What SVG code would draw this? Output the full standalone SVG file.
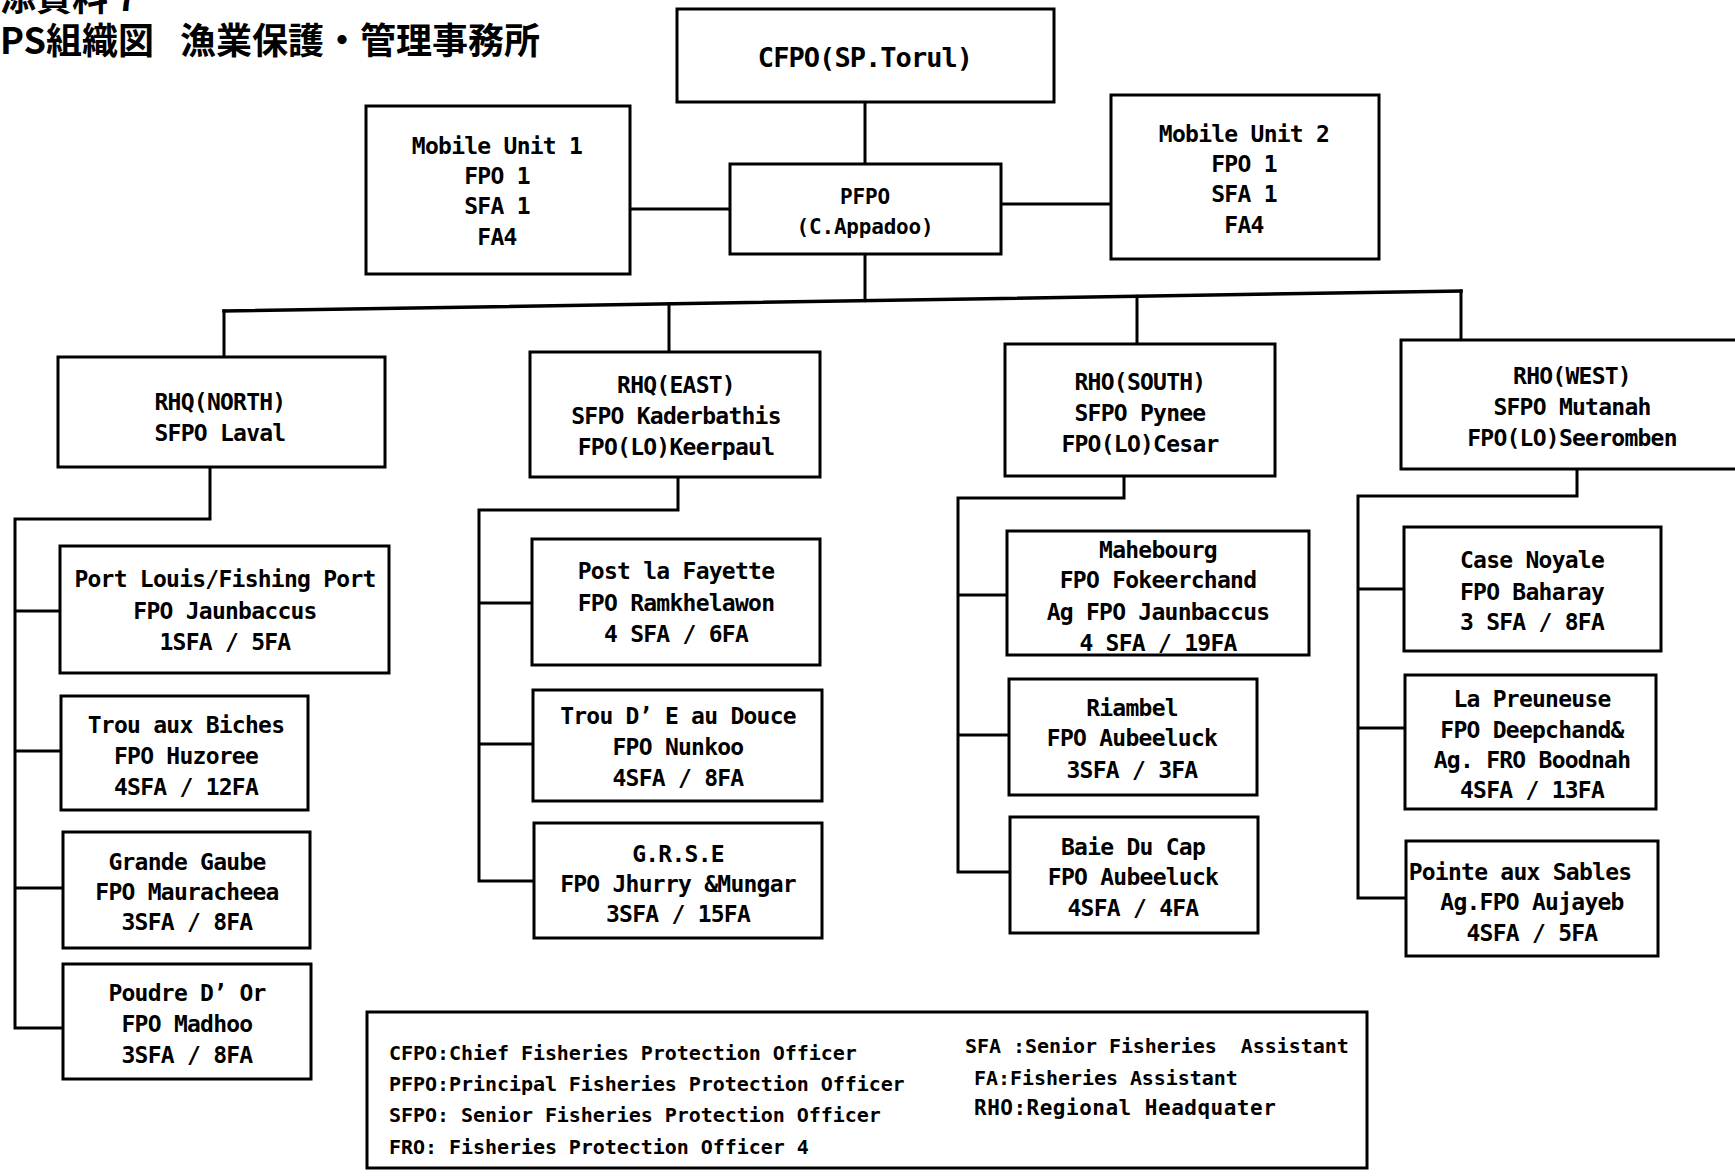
<svg xmlns="http://www.w3.org/2000/svg" width="1735" height="1176" viewBox="0 0 1735 1176">
<style>
.b{fill:#fff;stroke:#000;stroke-width:3}
.c{fill:none;stroke:#000;stroke-width:3;stroke-linecap:square}
.t{font-family:"DejaVu Sans Mono","Liberation Mono",monospace;font-weight:bold;font-size:23px;letter-spacing:-0.75px;text-anchor:middle;white-space:pre;fill:#000}
.big{font-size:27px;letter-spacing:-0.95px}
.pf{font-size:21px;letter-spacing:-0.2px}
.lg{font-family:"DejaVu Sans Mono","Liberation Mono",monospace;font-weight:bold;font-size:20px;letter-spacing:-0.05px;white-space:pre;fill:#000}
.ti{font-family:"Noto Sans CJK JP","Noto Sans CJK SC",sans-serif;font-weight:bold;font-size:36px;fill:#000}
</style>
<rect width="1735" height="1176" fill="#fff"/>
<g id="title">
<text class="ti" x="0" y="11">添資料 7</text>
<text class="ti" x="0" y="54">PS組織図</text>
<text class="ti" x="180" y="54">漁業保護・管理事務所</text>
</g>
<g id="connectors">
<path class="c" d="M865,102V164"/>
<path class="c" d="M630,209H730"/>
<path class="c" d="M1001,204H1111"/>
<path class="c" d="M865,254V300.6"/>
<path class="c" style="stroke-width:3.5" d="M224,311L1461,291"/>
<path class="c" d="M224,311V357M669,303.8V352M1137,296.2V344M1461,291V340"/>
<path class="c" d="M210,467V519H15V1028H63M15,611H60M15,751H61M15,888H63"/>
<path class="c" d="M678,477V510H479V881H534M479,603H532M479,744H533"/>
<path class="c" d="M1124,476V498H958V872H1010M958,595H1007M958,735H1009"/>
<path class="c" d="M1577,469V496H1358V898H1406M1358,589H1404M1358,728H1405"/>
</g>
<g id="cfpo">
<rect class="b" x="677" y="9" width="377" height="93"/>
<text class="t big" x="865" y="67">CFPO(SP.Torul)</text>
</g>
<g id="mobile1">
<rect class="b" x="366" y="106" width="264" height="168"/>
<text class="t" x="497" y="154">Mobile Unit 1</text>
<text class="t" x="497" y="184">FPO 1</text>
<text class="t" x="497" y="214">SFA 1</text>
<text class="t" x="497" y="245">FA4</text>
</g>
<g id="pfpo">
<rect class="b" x="730" y="164" width="271" height="90"/>
<text class="t pf" x="865" y="204">PFPO</text>
<text class="t pf" x="865" y="234">(C.Appadoo)</text>
</g>
<g id="mobile2">
<rect class="b" x="1111" y="95" width="268" height="164"/>
<text class="t" x="1244" y="142">Mobile Unit 2</text>
<text class="t" x="1244" y="172">FPO 1</text>
<text class="t" x="1244" y="202">SFA 1</text>
<text class="t" x="1244" y="233">FA4</text>
</g>
<g id="rhq-north">
<rect class="b" x="58" y="357" width="327" height="110"/>
<text class="t" x="220" y="410">RHQ(NORTH)</text>
<text class="t" x="220" y="441">SFPO Laval</text>
</g>
<g id="rhq-east">
<rect class="b" x="530" y="352" width="290" height="125"/>
<text class="t" x="676" y="393">RHQ(EAST)</text>
<text class="t" x="676" y="424">SFPO Kaderbathis</text>
<text class="t" x="676" y="455">FPO(LO)Keerpaul</text>
</g>
<g id="rho-south">
<rect class="b" x="1005" y="344" width="270" height="132"/>
<text class="t" x="1140" y="390">RHO(SOUTH)</text>
<text class="t" x="1140" y="421">SFPO Pynee</text>
<text class="t" x="1140" y="452">FPO(LO)Cesar</text>
</g>
<g id="rho-west">
<rect class="b" x="1401" y="340" width="342" height="129"/>
<text class="t" x="1572" y="384">RHO(WEST)</text>
<text class="t" x="1572" y="415">SFPO Mutanah</text>
<text class="t" x="1572" y="446">FPO(LO)Seeromben</text>
</g>
<g id="port-louis">
<rect class="b" x="60" y="546" width="329" height="127"/>
<text class="t" x="225" y="587">Port Louis/Fishing Port</text>
<text class="t" x="225" y="619">FPO Jaunbaccus</text>
<text class="t" x="225" y="650">1SFA / 5FA</text>
</g>
<g id="trou-aux-biches">
<rect class="b" x="61" y="696" width="247" height="114"/>
<text class="t" x="186" y="733">Trou aux Biches</text>
<text class="t" x="186" y="764">FPO Huzoree</text>
<text class="t" x="186" y="795">4SFA / 12FA</text>
</g>
<g id="grande-gaube">
<rect class="b" x="63" y="832" width="247" height="116"/>
<text class="t" x="187" y="870">Grande Gaube</text>
<text class="t" x="187" y="900">FPO Mauracheea</text>
<text class="t" x="187" y="930">3SFA / 8FA</text>
</g>
<g id="poudre-d-or">
<rect class="b" x="63" y="964" width="248" height="115"/>
<text class="t" x="187" y="1001">Poudre D’ Or</text>
<text class="t" x="187" y="1032">FPO Madhoo</text>
<text class="t" x="187" y="1063">3SFA / 8FA</text>
</g>
<g id="post-la-fayette">
<rect class="b" x="532" y="539" width="288" height="126"/>
<text class="t" x="676" y="579">Post la Fayette</text>
<text class="t" x="676" y="611">FPO Ramkhelawon</text>
<text class="t" x="676" y="642">4 SFA / 6FA</text>
</g>
<g id="trou-d-eau-douce">
<rect class="b" x="533" y="690" width="289" height="111"/>
<text class="t" x="678" y="724">Trou D’ E au Douce</text>
<text class="t" x="678" y="755">FPO Nunkoo</text>
<text class="t" x="678" y="786">4SFA / 8FA</text>
</g>
<g id="grse">
<rect class="b" x="534" y="823" width="288" height="115"/>
<text class="t" x="678" y="862">G.R.S.E</text>
<text class="t" x="678" y="892">FPO Jhurry &amp;Mungar</text>
<text class="t" x="678" y="922">3SFA / 15FA</text>
</g>
<g id="mahebourg">
<rect class="b" x="1007" y="531" width="302" height="124"/>
<text class="t" x="1158" y="558">Mahebourg</text>
<text class="t" x="1158" y="588">FPO Fokeerchand</text>
<text class="t" x="1158" y="620">Ag FPO Jaunbaccus</text>
<text class="t" x="1158" y="651">4 SFA / 19FA</text>
</g>
<g id="riambel">
<rect class="b" x="1009" y="679" width="248" height="116"/>
<text class="t" x="1132" y="716">Riambel</text>
<text class="t" x="1132" y="746">FPO Aubeeluck</text>
<text class="t" x="1132" y="778">3SFA / 3FA</text>
</g>
<g id="baie-du-cap">
<rect class="b" x="1010" y="817" width="248" height="116"/>
<text class="t" x="1133" y="855">Baie Du Cap</text>
<text class="t" x="1133" y="885">FPO Aubeeluck</text>
<text class="t" x="1133" y="916">4SFA / 4FA</text>
</g>
<g id="case-noyale">
<rect class="b" x="1404" y="527" width="257" height="124"/>
<text class="t" x="1532" y="568">Case Noyale</text>
<text class="t" x="1532" y="600">FPO Baharay</text>
<text class="t" x="1532" y="630">3 SFA / 8FA</text>
</g>
<g id="la-preuneuse">
<rect class="b" x="1405" y="675" width="251" height="134"/>
<text class="t" x="1532" y="707">La Preuneuse</text>
<text class="t" x="1532" y="738">FPO Deepchand&amp;</text>
<text class="t" x="1532" y="768">Ag. FRO Boodnah</text>
<text class="t" x="1532" y="798">4SFA / 13FA</text>
</g>
<g id="pointe-aux-sables">
<rect class="b" x="1406" y="841" width="252" height="115"/>
<text class="t" x="1520" y="880">Pointe aux Sables</text>
<text class="t" x="1532" y="910">Ag.FPO Aujayeb</text>
<text class="t" x="1532" y="941">4SFA / 5FA</text>
</g>
<g id="legend">
<rect class="b" x="367" y="1012" width="1000" height="156"/>
<text class="lg" x="389" y="1060">CFPO:Chief Fisheries Protection Officer</text>
<text class="lg" x="389" y="1091">PFPO:Principal Fisheries Protection Officer</text>
<text class="lg" x="389" y="1122">SFPO: Senior Fisheries Protection Officer</text>
<text class="lg" x="389" y="1154">FRO: Fisheries Protection Officer 4</text>
<text class="lg" x="965" y="1053">SFA :Senior Fisheries  Assistant</text>
<text class="lg" x="974" y="1085">FA:Fisheries Assistant</text>
<text class="lg" x="974" y="1115" style="font-size:21px;letter-spacing:0.5px">RHO:Regional Headquater</text>
</g>
</svg>
